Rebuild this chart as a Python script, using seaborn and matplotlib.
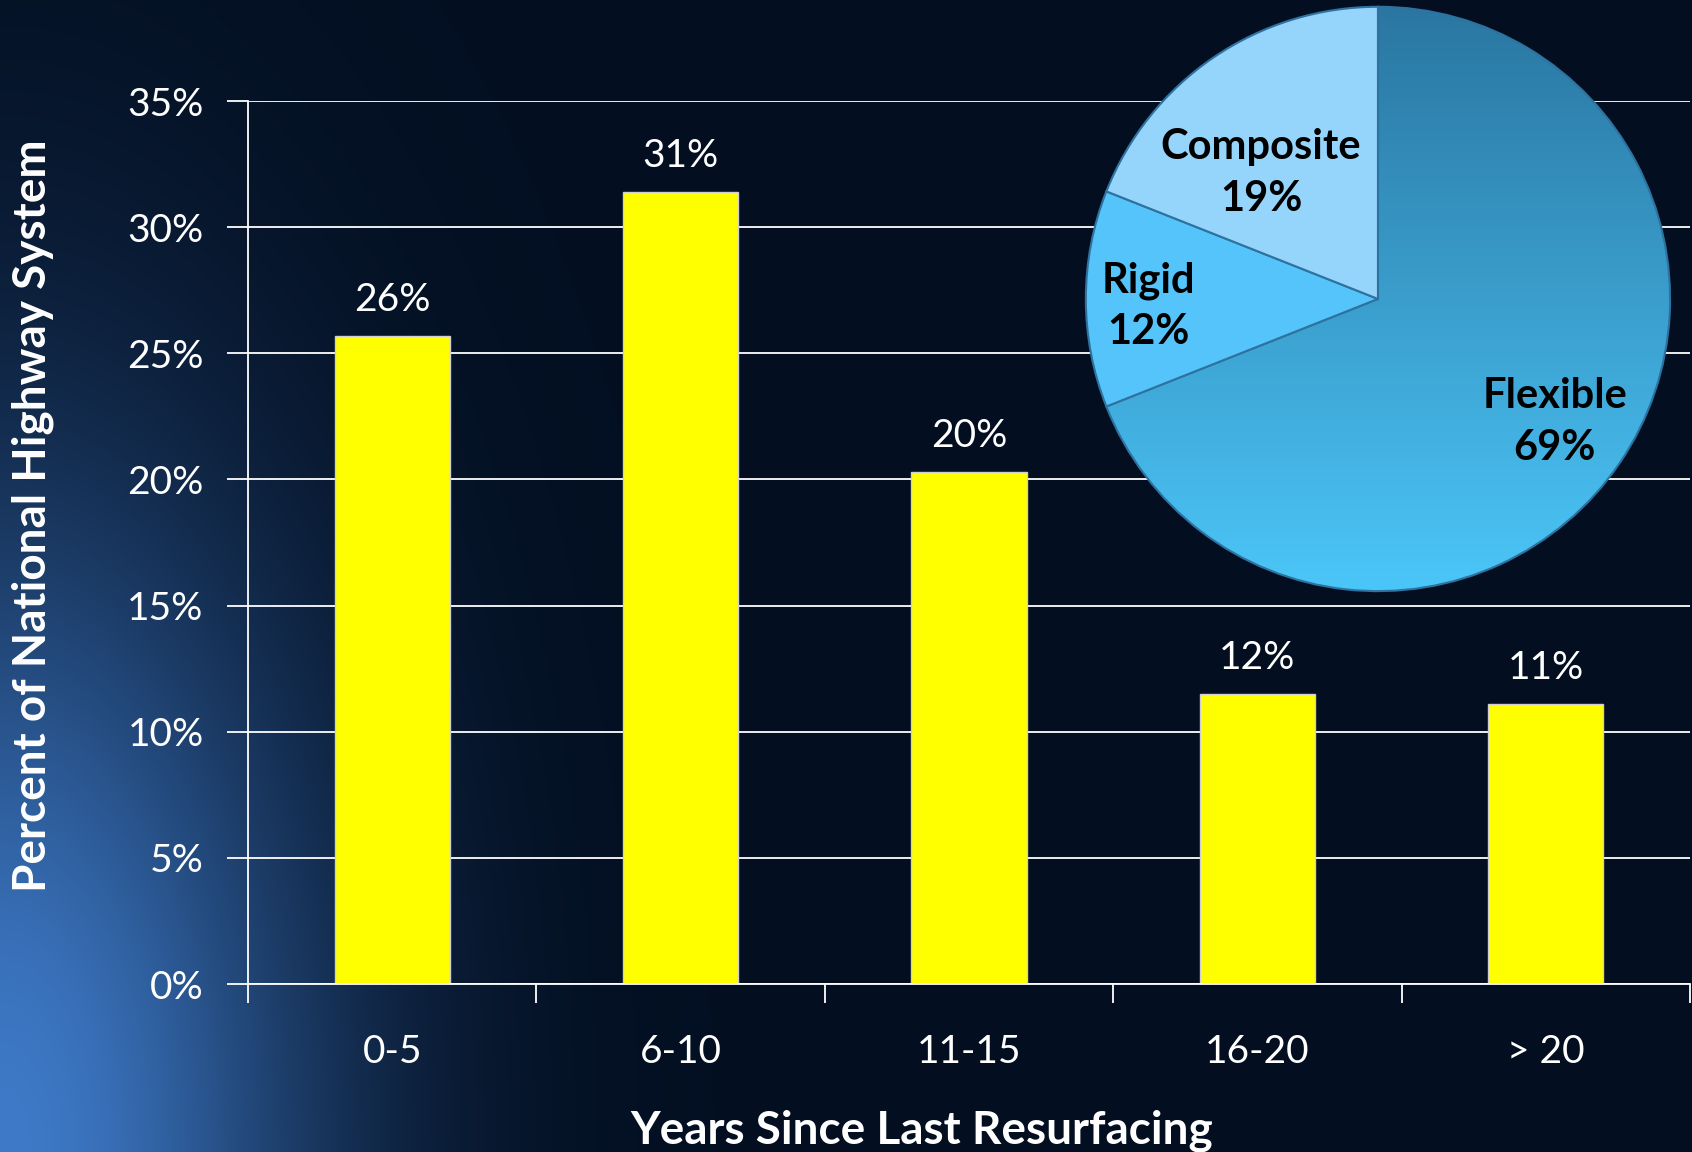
import numpy as np
import matplotlib
matplotlib.use("Agg")
import matplotlib.pyplot as plt
from matplotlib.colors import LinearSegmentedColormap
import seaborn as sns
import pandas as pd

# ---------------- data ----------------#
years = ["0-5", "6-10", "11-15", "16-20", "> 20"]
share = [25.7, 31.4, 20.3, 11.5, 11.1]
share_labels = ["26%", "31%", "20%", "12%", "11%"]
yticks = [0, 5, 10, 15, 20, 25, 30, 35]

pave_types = ["Flexible", "Rigid", "Composite"]
pave_share = [69, 12, 19]

df = pd.DataFrame({"years": years, "share": share})

sns.set_theme(style="dark")
plt.rcParams["font.family"] = ["Lato", "DejaVu Sans"]

fig = plt.figure(figsize=(16.92, 11.52), dpi=100)

# ---------- background: dark navy with blue glow bottom-left ----------#
bg = fig.add_axes([0, 0, 1, 1], zorder=-10)
yy, xx = np.mgrid[0:1:576j, 0:1:846j]
r = np.sqrt((xx / 0.25) ** 2 + ((1 - yy) / 0.75) ** 2)
glow = np.exp(-1.8 * r ** 2)
base = np.array([3, 15, 33]) / 255.
lite = np.array([62, 122, 200]) / 255.
img = base + glow[..., None] * (lite - base)
bg.imshow(np.clip(img, 0, 1), aspect="auto", extent=[0, 1, 0, 1])
bg.axis("off")

# ---------- bar chart ----------#
ax = fig.add_axes([0.1466, 0.1458, 0.8522, 0.7665])
ax.set_facecolor("none")
sns.barplot(data=df, x="years", y="share", color="#FFFF00", saturation=1,
            width=0.4, edgecolor="#cfcfcf", linewidth=1, ax=ax)
ax.set_xlim(-0.5, 4.5)
ax.set_ylim(0, 35)

ax.set_yticks(yticks)
ax.set_yticklabels(["{}%".format(v) for v in yticks])
ax.yaxis.grid(True, color="white", lw=1.3)
ax.xaxis.grid(False)
ax.set_axisbelow(True)
ax.tick_params(axis="y", colors="white", labelsize=28, length=15, width=1.3,
               direction="out", pad=17, left=True)

ax.set_xticks(np.arange(-0.5, 5, 1))
ax.set_xticklabels([])
ax.set_xticks(range(len(years)), minor=True)
ax.set_xticklabels(years, minor=True)
ax.tick_params(axis="x", which="major", colors="white", length=14, width=1.3,
               direction="out", bottom=True)
ax.tick_params(axis="x", which="minor", colors="white", labelsize=28, length=0, pad=36)

for s in ["top", "right"]:
    ax.spines[s].set_visible(False)
for s in ["left", "bottom"]:
    ax.spines[s].set_color("white")
    ax.spines[s].set_linewidth(1.3)

ax.bar_label(ax.containers[0], labels=share_labels, padding=13, color="white", fontsize=28)

ax.set_xlabel("Years Since Last Resurfacing", color="white", fontsize=33, fontweight="bold")
ax.xaxis.set_label_coords(0.467, -0.142)
ax.set_ylabel("Percent of National Highway System", color="white", fontsize=33, fontweight="bold")
ax.yaxis.set_label_coords(-0.1345, 0.53)

# ---------- pie inset ----------#
pax = fig.add_axes([0.6383, 0.4818, 0.3522, 0.5174])
wedges, _ = pax.pie(pave_share, startangle=90, counterclock=False, radius=1,
                    colors=["#3EA9E0", "#55C4FA", "#95D4FB"],
                    wedgeprops=dict(edgecolor="#2E72A0", linewidth=1.5))
grad = np.linspace(0, 1, 256)[:, None]
cm = LinearSegmentedColormap.from_list("flex", ["#2A76A1", "#4BC6F8"])
im = pax.imshow(grad, extent=[-1, 1, -1, 1], cmap=cm, aspect="auto", zorder=0.5)
im.set_clip_path(wedges[0])
wedges[0].set_facecolor("none")
pax.set_xlim(-1.02, 1.02)
pax.set_ylim(-1.02, 1.02)
pax.axis("off")

# label spots inside each wedge (pie units)
label_xy = [(0.605, -0.42), (-0.786, -0.025), (-0.40, 0.43)]
for (lx, ly), name, pct in zip(label_xy, pave_types, pave_share):
    pax.text(lx, ly, "{}\n{}%".format(name, pct),
             ha="center", va="center", fontsize=30, fontweight="bold",
             color="black", linespacing=1.45)

plt.savefig("out.png", dpi=100)
